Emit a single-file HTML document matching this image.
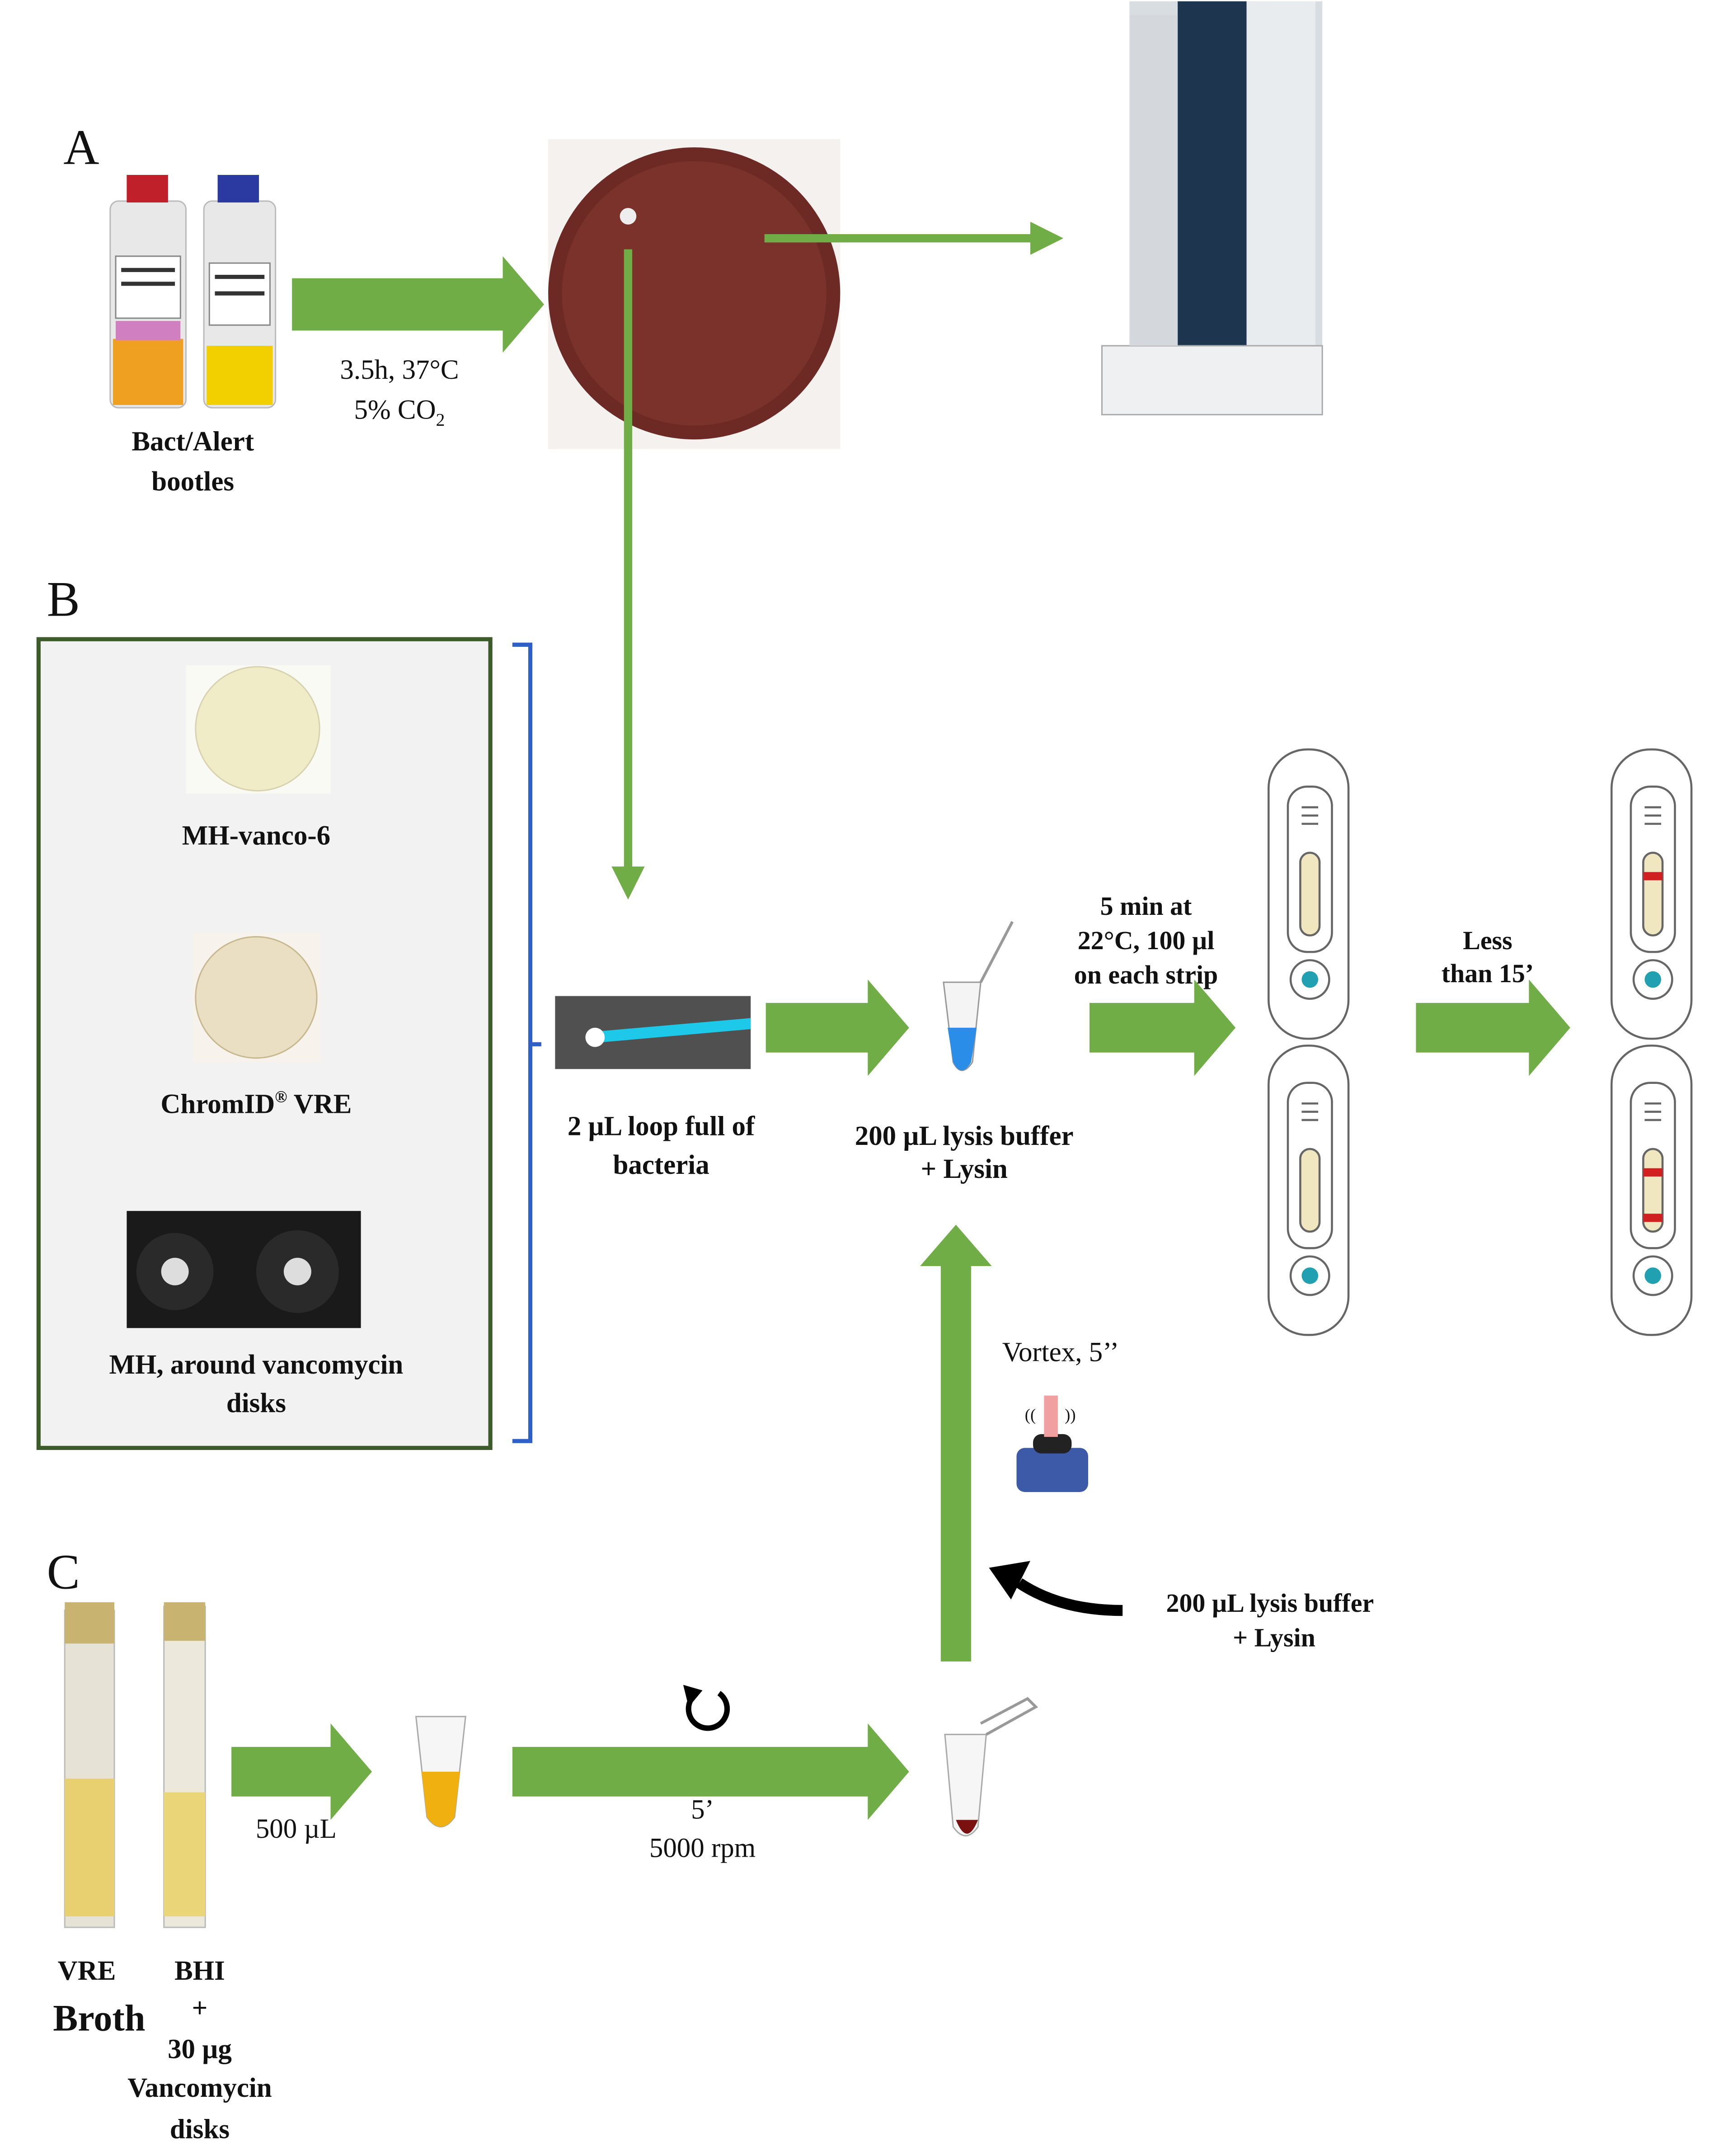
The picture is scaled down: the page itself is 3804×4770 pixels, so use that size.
<!DOCTYPE html>
<html><head><meta charset="utf-8"><style>
html,body{margin:0;padding:0;background:#fff}
svg{display:block}
text{font-family:"Liberation Serif",serif;fill:#111}
.b{font-weight:bold}
</style></head><body>
<svg width="3804" height="4770" viewBox="0 0 1248 1563" xmlns="http://www.w3.org/2000/svg">
<defs>
<marker id="ah" markerWidth="4" markerHeight="4" refX="2" refY="2" orient="auto" markerUnits="strokeWidth"><path d="M0,0 L4,2 L0,4z" fill="#70ad47"/></marker>
</defs>
<rect width="1248" height="1563" fill="#fff"/>
<text x="46" y="118" font-size="36">A</text>
<text x="34" y="446" font-size="36">B</text>
<text x="34" y="1152" font-size="36">C</text>

<g>
<rect x="80" y="145" width="55" height="150" rx="6" fill="#e8e8e8" stroke="#bbb"/>
<rect x="92" y="126" width="30" height="20" fill="#c0202a"/>
<rect x="82" y="245" width="51" height="48" fill="#f0a020"/>
<rect x="84" y="185" width="47" height="45" fill="#fff" stroke="#888"/>
<line x1="88" y1="195" x2="127" y2="195" stroke="#333" stroke-width="3"/><line x1="88" y1="205" x2="127" y2="205" stroke="#333" stroke-width="3"/>
<rect x="84" y="232" width="47" height="14" fill="#d080c0"/>
<rect x="148" y="145" width="52" height="150" rx="6" fill="#e8e8e8" stroke="#bbb"/>
<rect x="158" y="126" width="30" height="20" fill="#2a3aa0"/>
<rect x="150" y="250" width="48" height="43" fill="#f2d000"/>
<rect x="152" y="190" width="44" height="45" fill="#fff" stroke="#888"/>
<line x1="156" y1="200" x2="192" y2="200" stroke="#333" stroke-width="3"/><line x1="156" y1="212" x2="192" y2="212" stroke="#333" stroke-width="3"/>
</g>
<text x="140" y="326" font-size="20" class="b" text-anchor="middle">Bact/Alert</text>
<text x="140" y="355" font-size="20" class="b" text-anchor="middle">bootles</text>
<path d="M212,201 H365 V185 L395,220 L365,255 V239 H212z" fill="#70ad47"/>
<text x="290" y="274" font-size="20" text-anchor="middle">3.5h, 37°C</text>
<text x="290" y="303" font-size="20" text-anchor="middle">5% CO<tspan font-size="13" dy="5">2</tspan></text>
<rect x="398" y="100" width="212" height="225" fill="#f4f1ee"/>
<circle cx="504" cy="212" r="106" fill="#6d2a24"/>
<circle cx="504" cy="212" r="96" fill="#7a322a"/>
<circle cx="456" cy="156" r="6" fill="#eee"/>
<line x1="555" y1="172" x2="760" y2="172" stroke="#70ad47" stroke-width="6" marker-end="url(#ah)"/>
<line x1="456" y1="180" x2="456" y2="640" stroke="#70ad47" stroke-width="6" marker-end="url(#ah)"/>
<g>
<rect x="820" y="0" width="140" height="300" fill="#d8dde2"/>
<rect x="855" y="0" width="50" height="250" fill="#1e3550"/>
<rect x="905" y="0" width="50" height="290" fill="#e8ecef"/>
<rect x="800" y="250" width="160" height="50" fill="#eef0f2" stroke="#aaa"/>
<rect x="820" y="10" width="35" height="240" fill="#d4d8dc"/>
</g>
<rect x="28" y="463" width="328" height="587" fill="#f2f2f2" stroke="#3d5a2a" stroke-width="3"/>
<rect x="135" y="482" width="105" height="93" fill="#fafaf5"/>
<circle cx="187" cy="528" r="45" fill="#f1ecc8" stroke="#d8d2b0"/>
<text x="186" y="612" font-size="20" class="b" text-anchor="middle">MH-vanco-6</text>
<rect x="140" y="676" width="93" height="94" fill="#f7f3ec"/>
<circle cx="186" cy="723" r="44" fill="#eadfc2" stroke="#c8b890"/>
<text x="186" y="807" font-size="20" class="b" text-anchor="middle">ChromID<tspan font-size="12" dy="-8">®</tspan><tspan dy="8"> VRE</tspan></text>
<rect x="92" y="878" width="170" height="85" fill="#1a1a1a"/>
<circle cx="127" cy="922" r="28" fill="#2a2a2a"/><circle cx="127" cy="922" r="10" fill="#ddd"/>
<circle cx="216" cy="922" r="30" fill="#2a2a2a"/><circle cx="216" cy="922" r="10" fill="#ddd"/>
<text x="186" y="996" font-size="20" class="b" text-anchor="middle">MH, around vancomycin</text>
<text x="186" y="1024" font-size="20" class="b" text-anchor="middle">disks</text>
<path d="M372,467 H385 V1045 H372 M385,757 H393" fill="none" stroke="#2f5fc8" stroke-width="3"/>
<rect x="403" y="722" width="142" height="53" fill="#505050"/>
<path d="M430,748 L545,738 L545,746 L432,756z" fill="#1ec8e8"/>
<circle cx="432" cy="752" r="7" fill="#fff"/>
<text x="480" y="823" font-size="20" class="b" text-anchor="middle">2 µL loop full of</text>
<text x="480" y="851" font-size="20" class="b" text-anchor="middle">bacteria</text>
<path d="M556,727 H630 V710 L660,745 L630,780 V763 H556z" fill="#70ad47"/>
<path d="M685,712 H712 L706,770 Q698,782 692,770z" fill="#f4f4f4" stroke="#999"/>
<path d="M688,745 H709 L705,770 Q698,782 692,770z" fill="#2a8ee8"/>
<path d="M712,712 L735,668" stroke="#999" stroke-width="2" fill="none"/>
<text x="700" y="830" font-size="20" class="b" text-anchor="middle">200 µL lysis buffer</text>
<text x="700" y="854" font-size="20" class="b" text-anchor="middle">+ Lysin</text>
<text x="832" y="663" font-size="19" class="b" text-anchor="middle">5 min at</text>
<text x="832" y="688" font-size="19" class="b" text-anchor="middle">22°C, 100 µl</text>
<text x="832" y="713" font-size="19" class="b" text-anchor="middle">on each strip</text>
<path d="M791,727 H867 V710 L897,745 L867,780 V763 H791z" fill="#70ad47"/>
<text x="1080" y="688" font-size="19" class="b" text-anchor="middle">Less</text>
<text x="1080" y="712" font-size="19" class="b" text-anchor="middle">than 15’</text>
<path d="M1028,727 H1110 V710 L1140,745 L1110,780 V763 H1028z" fill="#70ad47"/>
<g fill="none" stroke="#666" stroke-width="1.5">
<g id="strip">
<rect x="921" y="543" width="58" height="210" rx="28"/>
<rect x="935" y="570" width="32" height="120" rx="14"/>
<rect x="944" y="618" width="14" height="60" rx="7" fill="#f0e6c0"/>
<circle cx="951" cy="710" r="14"/>
<circle cx="951" cy="710" r="6" fill="#20a0b0" stroke="none"/>
<line x1="945" y1="585" x2="957" y2="585"/><line x1="945" y1="591" x2="957" y2="591"/><line x1="945" y1="597" x2="957" y2="597"/>
</g>
<use href="#strip" y="215"/>
<use href="#strip" x="249"/>
<use href="#strip" x="249" y="215"/>
</g>
<rect x="1193" y="632" width="14" height="6" fill="#d02020"/>
<rect x="1193" y="847" width="14" height="6" fill="#d02020"/>
<rect x="1193" y="880" width="14" height="6" fill="#d02020"/>
<path d="M683,1205 V918 H668 L694,888 L720,918 H705 V1205z" fill="#70ad47"/>
<text x="770" y="987" font-size="20" text-anchor="middle">Vortex, 5’’</text>
<rect x="738" y="1050" width="52" height="32" rx="6" fill="#3c5aa8"/>
<rect x="750" y="1040" width="28" height="14" rx="6" fill="#222"/>
<rect x="758" y="1012" width="10" height="30" fill="#f0a0a0"/>
<text x="744" y="1030" font-size="12">((</text><text x="773" y="1030" font-size="12">))</text>
<path d="M815,1168 Q770,1168 740,1148" fill="none" stroke="#000" stroke-width="8"/>
<path d="M718,1137 L748,1132 L734,1160z" fill="#000"/>
<text x="922" y="1169" font-size="19" class="b" text-anchor="middle">200 µL lysis buffer</text>
<text x="925" y="1194" font-size="19" class="b" text-anchor="middle">+ Lysin</text>
<rect x="47" y="1168" width="36" height="230" fill="#e6e2d6" stroke="#bbb"/>
<rect x="47" y="1162" width="36" height="30" fill="#c8b470"/>
<rect x="47" y="1290" width="36" height="100" fill="#e8d070"/>
<rect x="119" y="1165" width="30" height="233" fill="#ece8dc" stroke="#bbb"/>
<rect x="119" y="1162" width="30" height="28" fill="#c8b470"/>
<rect x="119" y="1300" width="30" height="90" fill="#ead678"/>
<text x="63" y="1436" font-size="20" class="b" text-anchor="middle">VRE</text>
<text x="72" y="1473" font-size="27" class="b" text-anchor="middle">Broth</text>
<text x="145" y="1436" font-size="20" class="b" text-anchor="middle">BHI</text>
<text x="145" y="1463" font-size="20" class="b" text-anchor="middle">+</text>
<text x="145" y="1493" font-size="20" class="b" text-anchor="middle">30 µg</text>
<text x="145" y="1521" font-size="20" class="b" text-anchor="middle">Vancomycin</text>
<text x="145" y="1551" font-size="20" class="b" text-anchor="middle">disks</text>
<path d="M168,1267 H240 V1250 L270,1285 L240,1320 V1303 H168z" fill="#70ad47"/>
<text x="215" y="1333" font-size="20" text-anchor="middle">500 µL</text>
<path d="M302,1245 H338 L330,1318 Q320,1332 310,1318z" fill="#f6f6f6" stroke="#aaa"/>
<path d="M306,1285 H334 L330,1318 Q320,1332 310,1318z" fill="#f0b010"/>
<path d="M372,1267 H630 V1250 L660,1285 L630,1320 V1303 H372z" fill="#70ad47"/>
<path d="M522,1228 A14,14 0 1 1 502,1232" fill="none" stroke="#000" stroke-width="4"/>
<path d="M496,1222 L510,1226 L500,1238z" fill="#000"/>
<text x="510" y="1319" font-size="20" text-anchor="middle">5’</text>
<text x="510" y="1347" font-size="20" text-anchor="middle">5000 rpm</text>
<path d="M686,1258 H716 L710,1325 Q701,1338 692,1325z" fill="#f6f6f6" stroke="#aaa"/>
<path d="M694,1320 H710 Q702,1340 694,1320z" fill="#7a1010"/>
<path d="M716,1258 L752,1238 L746,1232 L712,1250" fill="none" stroke="#999" stroke-width="2"/>
</svg>
</body></html>
